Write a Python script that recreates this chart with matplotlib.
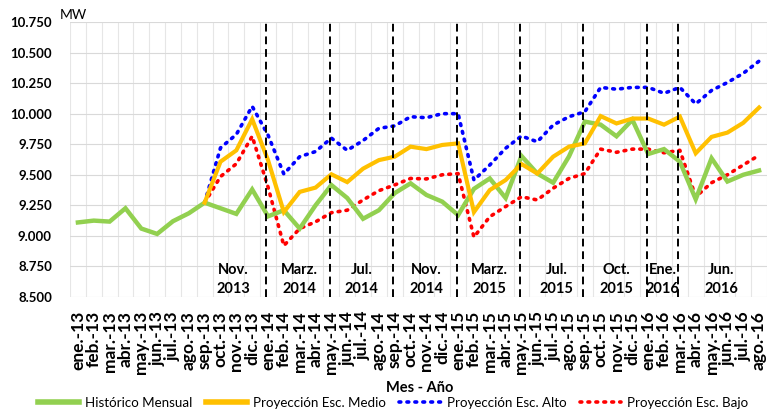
import matplotlib
matplotlib.use("Agg")
import matplotlib.pyplot as plt
import numpy as np
from matplotlib.ticker import FixedLocator

nan = np.nan

# month labels, ene-13 .. ago-16
meses = ["ene.", "feb.", "mar.", "abr.", "may.", "jun.",
         "jul.", "ago.", "sep.", "oct.", "nov.", "dic."]
labels = []
for yy in [13, 14, 15, 16]:
    for m in meses:
        labels.append("%s-%d" % (m, yy))
labels = labels[:44]

historico = [9.11, 9.125, 9.117, 9.226, 9.06, 9.016, 9.12, 9.185, 9.272, 9.226, 9.18, 9.38,
             9.16, 9.21, 9.06, 9.25, 9.416, 9.31, 9.14, 9.21, 9.35, 9.43, 9.335, 9.28,
             9.17, 9.385, 9.47, 9.31, 9.654, 9.51, 9.435, 9.65, 9.935, 9.91, 9.815, 9.95,
             9.67, 9.71, 9.607, 9.30, 9.635, 9.445, 9.50, 9.535]

medio = [nan] * 8 + [9.272, 9.607, 9.70, 9.955,
                     9.62, 9.195, 9.36, 9.395, 9.504, 9.44, 9.55, 9.62, 9.648, 9.73, 9.71, 9.744,
                     9.757, 9.195, 9.375, 9.457, 9.588, 9.51, 9.648, 9.73, 9.757, 9.98, 9.92, 9.96,
                     9.96, 9.91, 9.976, 9.676, 9.81, 9.845, 9.925, 10.05]

alto = [nan] * 8 + [9.272, 9.72, 9.83, 10.06,
                    9.825, 9.506, 9.648, 9.69, 9.80, 9.70, 9.78, 9.88, 9.90, 9.975, 9.967, 10.0,
                    10.0, 9.457, 9.58, 9.717, 9.817, 9.77, 9.907, 9.975, 10.016, 10.215, 10.20, 10.215,
                    10.215, 10.167, 10.215, 10.08, 10.19, 10.255, 10.33, 10.43]

bajo = [nan] * 8 + [9.272, 9.485, 9.59, 9.815,
                    9.40, 8.92, 9.06, 9.115, 9.19, 9.21, 9.294, 9.37, 9.417, 9.47, 9.466, 9.50,
                    9.51, 8.99, 9.157, 9.24, 9.32, 9.294, 9.39, 9.47, 9.51, 9.71, 9.684, 9.71,
                    9.71, 9.68, 9.70, 9.32, 9.435, 9.50, 9.58, 9.66]

# period markers (dashed lines) and their captions
cortes = [12, 16, 20, 24, 28, 32, 36, 38]
periodos = ["Nov.\n2013", "Marz.\n2014", "Jul.\n2014", "Nov.\n2014", "Marz.\n2015",
            "Jul.\n2015", "Oct.\n2015", "Ene.\n2016", "Jun.\n2016"]
periodo_x = [9.8, 14.0, 17.9, 22.0, 26.0, 30.2, 34.0, 36.9, 40.6]

plt.rcParams['font.family'] = ['Lato', 'DejaVu Sans']

fig = plt.figure(figsize=(7.67, 4.13), dpi=100)
ax = fig.add_axes([70 / 767, 1 - 297 / 413, 1 - 70 / 767, (297 - 22) / 413])

x = np.arange(len(labels))

ax.plot(x, historico, color='#92D050', lw=3.2, solid_joinstyle='miter',
        label='Histórico Mensual', zorder=4)
ax.plot(x, medio, color='#FFC000', lw=3.0, solid_joinstyle='miter',
        label='Proyección Esc. Medio', zorder=5)
ax.plot(x, alto, color='#0000FF', lw=2.6, linestyle=(0, (0.5, 1.7)),
        dash_capstyle='round', label='Proyección Esc. Alto', zorder=3)
ax.plot(x, bajo, color='#FF0000', lw=2.6, linestyle=(0, (0.5, 1.7)),
        dash_capstyle='round', label='Proyección Esc. Bajo', zorder=3)

for c in cortes:
    ax.axvline(c - 0.1, color='black', lw=1.4, linestyle=(0, (4, 2.5)), zorder=6)

for txt, px in zip(periodos, periodo_x):
    ax.text(px, 8.647, txt, ha='center', va='center', fontsize=10.5,
            fontweight='bold', linespacing=1.45, zorder=7)

ax.set_xlim(-0.5, len(labels) - 0.5)
ax.set_ylim(8.5, 10.75)
ax.set_yticks(np.arange(8.5, 10.751, 0.25))
ax.set_yticklabels(["%.3f" % v for v in np.arange(8.5, 10.751, 0.25)],
                   fontsize=9.5, fontweight='bold')
ax.set_xticks(x)
ax.set_xticklabels(labels, rotation=90, fontsize=12.5, fontweight='bold')
ax.xaxis.set_minor_locator(FixedLocator(np.arange(-0.5, len(labels), 1.0)))
ax.tick_params(axis='both', which='both', length=0)
ax.tick_params(axis='y', pad=13)
ax.tick_params(axis='x', pad=10)

ax.grid(True, which='major', axis='y', color='#D9D9D9', lw=0.8)
ax.grid(True, which='minor', axis='x', color='#E6E6E6', lw=0.8)
ax.set_axisbelow(True)
for s in ax.spines.values():
    s.set_visible(False)

ax.set_xlabel('Mes - Año', fontsize=10.5, fontweight='bold')
ax.xaxis.set_label_coords((420 - 70) / 697, -(388 - 297) / 275)
ax.xaxis.label.set_va('center')

fig.text(60 / 767, 1 - 15 / 413, 'MW', fontsize=10, va='center', ha='left')

leg = fig.legend(loc='center', bbox_to_anchor=(393 / 767, 1 - 403 / 413), ncol=4,
                 frameon=False, fontsize=9.6, handlelength=3.1, columnspacing=1.0,
                 handletextpad=0.45, borderaxespad=0, borderpad=0)
leg.get_lines()[0].set_linewidth(4)
leg.get_lines()[1].set_linewidth(4)

fig.savefig('out.png', dpi=100)
